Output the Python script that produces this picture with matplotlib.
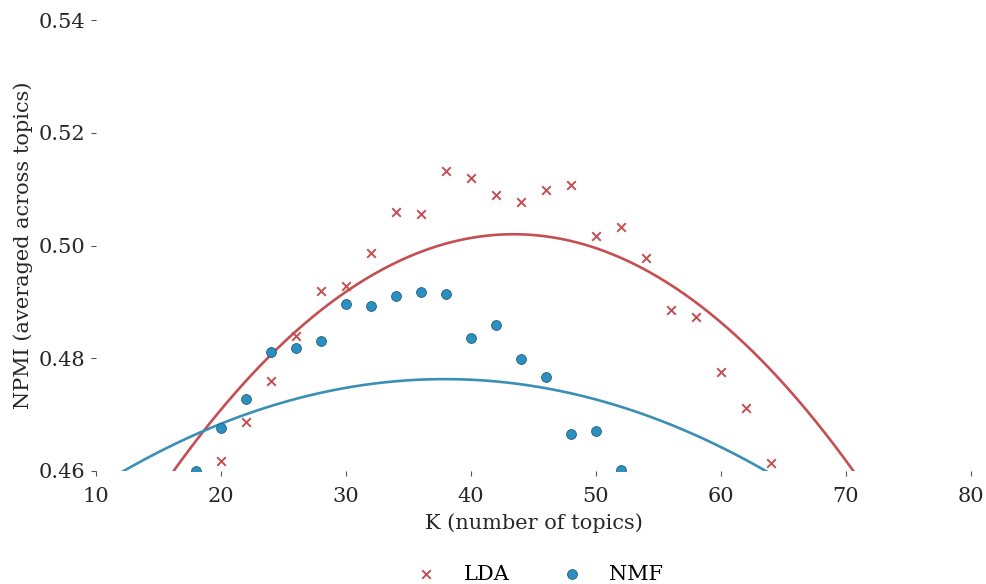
import numpy as np
import matplotlib
matplotlib.use("Agg")
import matplotlib.pyplot as plt

# topic counts and NPMI scores
lda_k = [20, 22, 24, 26, 28, 30, 32, 34, 36, 38, 40, 42, 44, 46, 48,
         50, 52, 54, 56, 58, 60, 62, 64]
lda_npmi = [0.4618, 0.4687, 0.4760, 0.4839, 0.4919, 0.4929, 0.4987, 0.5060,
            0.5055, 0.5133, 0.5120, 0.5089, 0.5077, 0.5098, 0.5108, 0.5017,
            0.5032, 0.4977, 0.4886, 0.4874, 0.4776, 0.4711, 0.4615]

nmf_k = [18, 20, 22, 24, 26, 28, 30, 32, 34, 36, 38, 40, 42, 44, 46,
         48, 50, 52]
nmf_npmi = [0.4600, 0.4677, 0.4727, 0.4811, 0.4818, 0.4831, 0.4896, 0.4893,
            0.4911, 0.4918, 0.4914, 0.4836, 0.4859, 0.4798, 0.4766, 0.4666,
            0.4671, 0.4602]

# order-2 trend lines, vertex form (peak K, peak NPMI, curvature)
lda_fit = [43.4, 0.5020, 5.68e-5]
nmf_fit = [37.9, 0.4763, 2.47e-5]

xticks = [10, 20, 30, 40, 50, 60, 70, 80]
yticks = [0.46, 0.48, 0.50, 0.52, 0.54]

RED = "#c44e52"
BLUE = "#2b8fc0"
BLUE_LINE = "#3a8fb5"

plt.rcParams["font.family"] = ["DejaVu Serif"]
plt.rcParams["font.size"] = 15

fig = plt.figure(figsize=(9.86, 5.84), dpi=100)
ax = fig.add_axes([96 / 986, 1 - 471 / 584, 875 / 986, 451 / 584])

kk = np.linspace(10, 80, 400)
for (k0, peak, a), col in [(lda_fit, RED), (nmf_fit, BLUE_LINE)]:
    ax.plot(kk, peak - a * (kk - k0) ** 2, color=col, lw=1.9, zorder=2)

ax.scatter(lda_k, lda_npmi, marker="x", s=38, color=RED, linewidths=1.4,
           label="LDA", zorder=3)
ax.scatter(nmf_k, nmf_npmi, marker="o", s=50, color=BLUE, edgecolors="#1f5f7e",
           linewidths=0.6, label="NMF", zorder=3)

ax.set_xlim(10, 80)
ax.set_ylim(0.46, 0.54)
ax.set_xticks(xticks)
ax.set_yticks(yticks)
ax.set_yticklabels([f"{t:.2f}" for t in yticks])
for s in ax.spines.values():
    s.set_visible(False)
ax.tick_params(direction="out", length=3.5, width=0.8, color="#555555",
               labelcolor="#262626", pad=4)
ax.tick_params(axis="x", pad=8)

ax.set_xlabel("K (number of topics)", color="#262626", labelpad=5)
ax.set_ylabel("NPMI (averaged across topics)", color="#262626", labelpad=4)

ax.legend(loc="center", bbox_to_anchor=(0.501, -0.229), ncol=2, frameon=False,
          columnspacing=2.0, handletextpad=0.8, fontsize=15)

fig.savefig("out.png", dpi=100)
